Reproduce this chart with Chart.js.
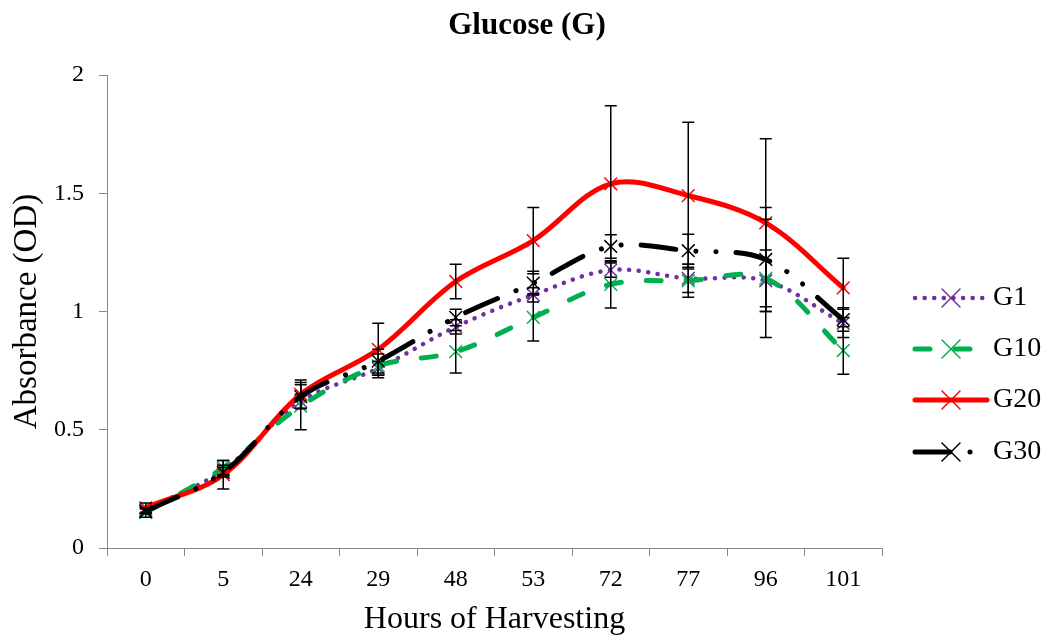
<!DOCTYPE html>
<html>
<head>
<meta charset="utf-8">
<script src="https://cdn.jsdelivr.net/npm/chart.js@4"></script>
<style>
  html, body { margin: 0; padding: 0; background: #fff; }
  #wrap { width: 1064px; height: 640px; }
</style>
</head>
<body>
<div id="wrap"><canvas id="lineChart" width="1064" height="640"></canvas></div>
<script>
const ctx = document.getElementById('lineChart').getContext('2d');

const chartTitle = 'Glucose (G)';
const hours = ['0', '5', '24', '29', '48', '53', '72', '77', '96', '101'];
const seriesNames = ['G1', 'G10', 'G20', 'G30'];

const g1  = [0.16, 0.33, 0.62, 0.76, 0.935, 1.07, 1.175, 1.14, 1.13, 0.95];
const g10 = [0.15, 0.34, 0.60, 0.77, 0.83, 0.975, 1.115, 1.13, 1.14, 0.835];
const g20 = [0.17, 0.31, 0.65, 0.84, 1.127, 1.30, 1.54, 1.49, 1.375, 1.10];
const g30 = [0.155, 0.32, 0.64, 0.79, 0.975, 1.12, 1.275, 1.257, 1.22, 0.966];

// error bar half-lengths
const g1Err  = [0.01, 0.02, 0.03, 0.03, 0.03, 0.03, 0.03, 0.06, 0.13, 0.06];
const g10Err = [0.02, 0.03, 0.10, 0.05, 0.09, 0.10, 0.10, 0.07, 0.25, 0.10];
const g20Err = [0.02, 0.06, 0.06, 0.11, 0.073, 0.14, 0.33, 0.31, 0.355, 0.125];
const g30Err = [0.01, 0.02, 0.05, 0.05, 0.035, 0.05, 0.05, 0.07, 0.22, 0.05];

const yTicks = [0, 0.5, 1, 1.5, 2];

const colors = ['#7030A0', '#00B050', '#FF0000', '#000000'];
const dashes = [[0.1, 9.5], [15, 25], [], [35, 20, 0.1, 20, 0.1, 20]];
const widths = [4.5, 5, 5, 5];

const values = [g1, g10, g20, g30];
const errors = [g1Err, g10Err, g20Err, g30Err];

const serif = '"Liberation Serif", "Times New Roman", serif';

// error bars drawn over the lines
const errorBars = {
    id: 'errorBars',
    afterDatasetsDraw(chart) {
        const c = chart.ctx;
        const y = chart.scales.y;
        c.save();
        c.strokeStyle = '#000';
        c.lineWidth = 1.5;
        chart.data.datasets.forEach((ds, i) => {
            const meta = chart.getDatasetMeta(i);
            meta.data.forEach((pt, j) => {
                const v = ds.data[j], e = errors[i][j];
                const top = y.getPixelForValue(v + e);
                const bot = y.getPixelForValue(v - e);
                c.beginPath();
                c.moveTo(pt.x, top); c.lineTo(pt.x, bot);
                c.moveTo(pt.x - 6, top); c.lineTo(pt.x + 6, top);
                c.moveTo(pt.x - 6, bot); c.lineTo(pt.x + 6, bot);
                c.stroke();
            });
        });
        c.restore();
    }
};

// title centred on the whole picture, not only the plot
const pageTitle = {
    id: 'pageTitle',
    afterDraw(chart) {
        const c = chart.ctx;
        c.save();
        c.fillStyle = '#000';
        c.font = 'bold 31px ' + serif;
        c.textAlign = 'center';
        c.textBaseline = 'middle';
        c.fillText(chartTitle, chart.width / 2 - 5, 26);
        c.restore();
    }
};

// legend on the right, line + marker like the original
const sideLegend = {
    id: 'sideLegend',
    afterDraw(chart) {
        const c = chart.ctx;
        const x0 = chart.chartArea.right + 33;
        const rowY = [298, 349, 400, 452];
        c.save();
        chart.data.datasets.forEach((ds, i) => {
            const yy = rowY[i];
            c.strokeStyle = ds.borderColor;
            c.lineWidth = ds.borderWidth;
            c.lineCap = 'round';
            c.setLineDash(ds.borderDash);
            c.beginPath();
            c.moveTo(x0, yy); c.lineTo(x0 + 72, yy);
            c.stroke();
            c.setLineDash([]);
            c.lineWidth = 1.5;
            c.beginPath();
            c.moveTo(x0 + 27, yy - 9); c.lineTo(x0 + 45, yy + 9);
            c.moveTo(x0 + 45, yy - 9); c.lineTo(x0 + 27, yy + 9);
            c.stroke();
            c.fillStyle = '#000';
            c.font = '28px ' + serif;
            c.textBaseline = 'middle';
            c.fillText(ds.label, x0 + 78, yy);
        });
        c.restore();
    }
};

const chart = new Chart(ctx, {
    type: 'line',
    data: {
        labels: hours,
        datasets: seriesNames.map((name, i) => ({
            label: name,
            data: values[i],
            borderColor: colors[i],
            backgroundColor: colors[i],
            borderWidth: widths[i],
            borderDash: dashes[i],
            borderCapStyle: 'round',
            tension: 0.35,
            fill: false,
            pointStyle: 'crossRot',
            pointRadius: 9,
            pointBorderWidth: 1.5,
            pointBorderColor: colors[i],
            order: 4 - i
        }))
    },
    options: {
        responsive: false,
        animation: false,
        layout: { padding: { right: 182, left: 0, top: 75, bottom: 0 } },
        plugins: {
            legend: { display: false },
            tooltip: { enabled: false },
            title: { display: false }
        },
        scales: {
            x: {
                offset: true,
                grid: { display: true, drawOnChartArea: false, drawTicks: true, tickLength: 8, color: '#888', offset: true },
                border: { display: true, color: '#888', width: 1 },
                ticks: { color: '#000', font: { family: serif, size: 24 }, padding: 9, maxRotation: 0 },
                title: {
                    display: true,
                    text: 'Hours of Harvesting',
                    color: '#000',
                    font: { family: serif, size: 32 },
                    padding: { top: 0, bottom: 1 }
                },
                afterFit(scale) { scale.height = 92; }
            },
            y: {
                min: 0,
                max: 2,
                afterBuildTicks(scale) { scale.ticks = yTicks.map(v => ({ value: v })); },
                grid: { display: true, drawOnChartArea: false, drawTicks: true, tickLength: 8, color: '#888' },
                border: { display: true, color: '#888', width: 1 },
                ticks: {
                    color: '#000',
                    font: { family: serif, size: 24 },
                    padding: 15,
                    callback: v => String(v)
                },
                title: {
                    display: true,
                    text: 'Absorbance (OD)',
                    color: '#000',
                    font: { family: serif, size: 33 },
                    padding: { top: 8, bottom: 0 }
                },
                afterFit(scale) { scale.width = 107; }
            }
        }
    },
    plugins: [errorBars, sideLegend, pageTitle]
});
</script>
</body>
</html>
